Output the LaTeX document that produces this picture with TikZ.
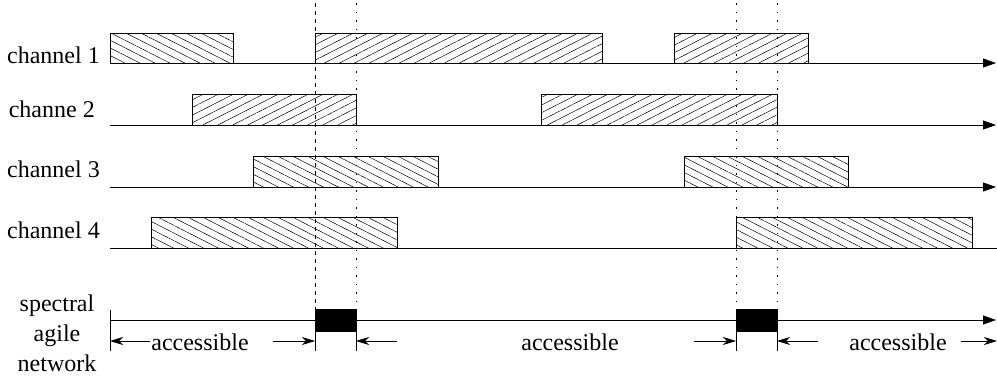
\documentclass[tikz,border=0pt]{standalone}
\usepackage{fontspec}
\setmainfont{Liberation Serif}
\newfontfamily\timesfont{Liberation Serif}
\usetikzlibrary{patterns.meta,arrows.meta}
\begin{document}
\begin{tikzpicture}[x=1pt,y=-1pt,
  axis/.style={line width=0.8pt,-{Triangle[length=13pt,width=9pt]}},
  plainaxis/.style={line width=0.8pt},
  hatchne/.style={draw,line width=0.8pt,pattern={Lines[angle=27,distance=6.8pt,line width=0.5pt]}},
  hatchnw/.style={draw,line width=0.8pt,pattern={Lines[angle=-27,distance=6.8pt,line width=0.5pt]}},
  busy/.style={draw,fill=black,line width=0.8pt},
  lab/.style={font=\timesfont\fontsize{24}{30}\selectfont,inner sep=0pt},
  dashv/.style={line width=0.8pt,dash pattern=on 4pt off 4pt},
  dotv/.style={line width=0.8pt,dash pattern=on 1.5pt off 7pt},
  tick/.style={line width=0.8pt},
  dim/.style={line width=0.8pt,-{Stealth[length=13pt,width=8pt,inset=4pt]}}
]
\useasboundingbox (0,0) rectangle (997,381);

% vertical marker lines
\draw[dashv] (315,3) -- (315,309);
\draw[dotv] (356,3) -- (356,309);
\draw[dotv] (736,3) -- (736,309);
\draw[dotv] (777,3) -- (777,309);

% channel 1
\path[hatchnw] (110,33) rectangle (233,63);
\path[hatchne] (315,33) rectangle (602,63);
\path[hatchne] (674,33) rectangle (808,63);
\draw[axis] (110,63) -- (996,63);
\node[lab,anchor=base east] (c1) at (100,63) {channel 1};

% channel 2
\path[hatchne] (192,94) rectangle (356,125);
\path[hatchne] (541,94) rectangle (777,125);
\draw[axis] (110,125) -- (996,125);
\node[lab,anchor=base east] (c2) at (95,117) {channe 2};

% channel 3
\path[hatchnw] (253,156) rectangle (438,187);
\path[hatchnw] (684,156) rectangle (848,187);
\draw[axis] (110,187) -- (996,187);
\node[lab,anchor=base east] (c3) at (100,177) {channel 3};

% channel 4
\path[hatchnw] (151,217) rectangle (397,248);
\path[hatchnw] (736,217) rectangle (972,248);
\draw[plainaxis] (110,248) -- (997,248);
\node[lab,anchor=base east] (c4) at (100,238) {channel 4};

% spectral agile network
\path[busy] (315,309) rectangle (356,331);
\path[busy] (736,309) rectangle (777,331);
\draw[axis] (110,320) -- (996,320);
\draw[tick] (110,310) -- (110,351);
\draw[tick] (315,331) -- (315,351);
\draw[tick] (356,331) -- (356,351);
\draw[tick] (736,331) -- (736,351);
\draw[tick] (777,331) -- (777,351);
\node[lab,align=center,anchor=base] (san) at (57,371) {spectral\\agile\\network};

\coordinate (l0) at (110,341);
\coordinate (a1) at (315,341);
\coordinate (a2) at (356,341);
\coordinate (b1) at (736,341);
\coordinate (b2) at (777,341);
\coordinate (rend) at (997,341);
\draw[dim] (150,341) -- (l0);
\draw[dim] (273,341) -- (a1);
\draw[dim] (397,341) -- (a2);
\draw[dim] (694,341) -- (b1);
\draw[dim] (818,341) -- (b2);
\draw[dim] (961,341) -- (rend);
\node[lab,anchor=base] (t1) at (200,350) {accessible};
\node[lab,anchor=base] (t2) at (570,350) {accessible};
\node[lab,anchor=base] (t3) at (898,350) {accessible};
\end{tikzpicture}
\end{document}
